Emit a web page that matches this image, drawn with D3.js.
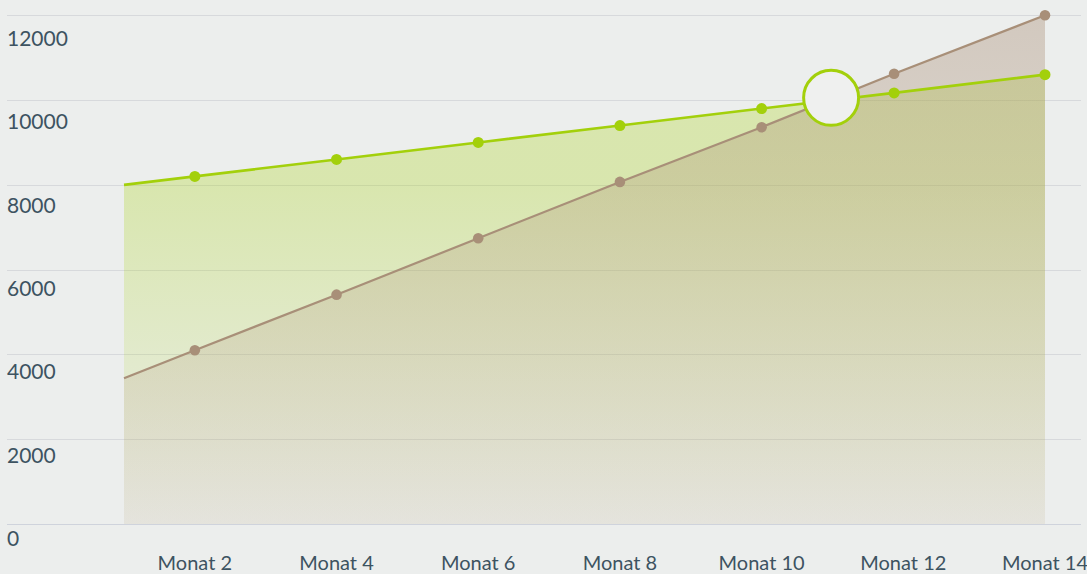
<!DOCTYPE html>
<html>
<head>
<meta charset="utf-8">
<script src="https://cdn.jsdelivr.net/npm/d3@7"></script>
<style>
  html, body { margin: 0; padding: 0; background: #eceeed; }
  svg { display: block; }
  text { font-family: Lato, "Open Sans", sans-serif; fill: #3d5361; }
</style>
</head>
<body>
<svg id="chart" width="1087" height="574"></svg>
<script>
// ---- data ----
const months      = [1, 2, 4, 6, 8, 10, 11.87, 14];
const seriesGreen = [8000, 8200, 8600, 9000, 9400, 9800, 10170, 10600];
const seriesBrown = [3440, 4100, 5410, 6740, 8070, 9360, 10620, 12000];
const markerIdx   = [1, 2, 3, 4, 5, 6, 7];           // points that get a dot
const xTickValues = [2, 4, 6, 8, 10, 12, 14];
const xTickLabels = ["Monat 2", "Monat 4", "Monat 6", "Monat 8", "Monat 10", "Monat 12", "Monat 14"];
const yTickValues = [0, 2000, 4000, 6000, 8000, 10000, 12000];

const W = 1087, H = 574;
const svg = d3.select("#chart");

const x = d3.scaleLinear().domain([1, 14]).range([124, 1045]);
const y = d3.scaleLinear().domain([0, 12000]).range([524, 15.3]);
const yLabel = d3.scaleLinear().domain([0, 12000]).range([546, 46]);

const defs = svg.append("defs");
const gG = defs.append("linearGradient").attr("id", "gGreen")
  .attr("gradientUnits", "userSpaceOnUse")
  .attr("x1", 0).attr("x2", 0).attr("y1", y(8000)).attr("y2", y(0));
gG.append("stop").attr("offset", 0).attr("stop-color", "#a6d20c").attr("stop-opacity", 0.28);
gG.append("stop").attr("offset", 1).attr("stop-color", "#a6d20c").attr("stop-opacity", 0.02);
const gB = defs.append("linearGradient").attr("id", "gBrown")
  .attr("gradientUnits", "userSpaceOnUse")
  .attr("x1", 0).attr("x2", 0).attr("y1", y(12000)).attr("y2", y(0));
gB.append("stop").attr("offset", 0).attr("stop-color", "#a88c73").attr("stop-opacity", 0.38);
gB.append("stop").attr("offset", 1).attr("stop-color", "#b89a86").attr("stop-opacity", 0.12);

// gridlines
svg.append("g").selectAll("line").data(yTickValues).join("line")
  .attr("x1", 7).attr("x2", 1081)
  .attr("y1", d => Math.round(y(d)) + 0.5).attr("y2", d => Math.round(y(d)) + 0.5)
  .attr("stroke", d => d === 0 ? "#cfd3dc" : "#d7d9dc").attr("stroke-width", 1);

// y labels
svg.append("g").selectAll("text").data(yTickValues).join("text")
  .attr("x", 7).attr("y", d => yLabel(d))
  .attr("font-size", 21)
  .text(d => d);

// x labels
svg.append("g").selectAll("text").data(xTickValues).join("text")
  .attr("x", d => x(d)).attr("y", 570)
  .attr("text-anchor", "middle")
  .attr("font-size", 20)
  .text((d, i) => xTickLabels[i]);

const rows = months.map((m, i) => ({ m, g: seriesGreen[i], b: seriesBrown[i] }));

const areaG = d3.area().x(d => x(d.m)).y0(y(0)).y1(d => y(d.g));
const areaB = d3.area().x(d => x(d.m)).y0(y(0)).y1(d => y(d.b));
const lineG = d3.line().x(d => x(d.m)).y(d => y(d.g));
const lineB = d3.line().x(d => x(d.m)).y(d => y(d.b));

svg.append("path").attr("d", areaG(rows)).attr("fill", "url(#gGreen)");
svg.append("path").attr("d", areaB(rows)).attr("fill", "url(#gBrown)");

svg.append("path").attr("d", lineB(rows)).attr("fill", "none")
  .attr("stroke", "#a88f78").attr("stroke-width", 2.2);
svg.append("path").attr("d", lineG(rows)).attr("fill", "none")
  .attr("stroke", "#a3d00b").attr("stroke-width", 2.6);

const pts = markerIdx.map(i => rows[i]);
svg.append("g").selectAll("circle").data(pts).join("circle")
  .attr("cx", d => x(d.m)).attr("cy", d => y(d.b)).attr("r", 5.3).attr("fill", "#a88f78");
svg.append("g").selectAll("circle").data(pts).join("circle")
  .attr("cx", d => x(d.m)).attr("cy", d => y(d.g)).attr("r", 5.5).attr("fill", "#a3d00b");

// crossing marker: computed intersection of the two series
let cross = null;
for (let i = 0; i < rows.length - 1 && !cross; i++) {
  const a = rows[i], c = rows[i + 1];
  const d0 = a.g - a.b, d1 = c.g - c.b;
  if (d0 >= 0 && d1 < 0) {
    const t = d0 / (d0 - d1);
    const xa = x(a.m) + t * (x(c.m) - x(a.m));
    const ya = y(a.g) + t * (y(c.g) - y(a.g));
    cross = [xa, ya];
  }
}
if (cross) {
  svg.append("circle").attr("cx", cross[0] + 4).attr("cy", cross[1] - 3).attr("r", 27.5)
    .attr("fill", "#eff0ef").attr("stroke", "#a3d00b").attr("stroke-width", 3);
}
</script>
</body>
</html>
